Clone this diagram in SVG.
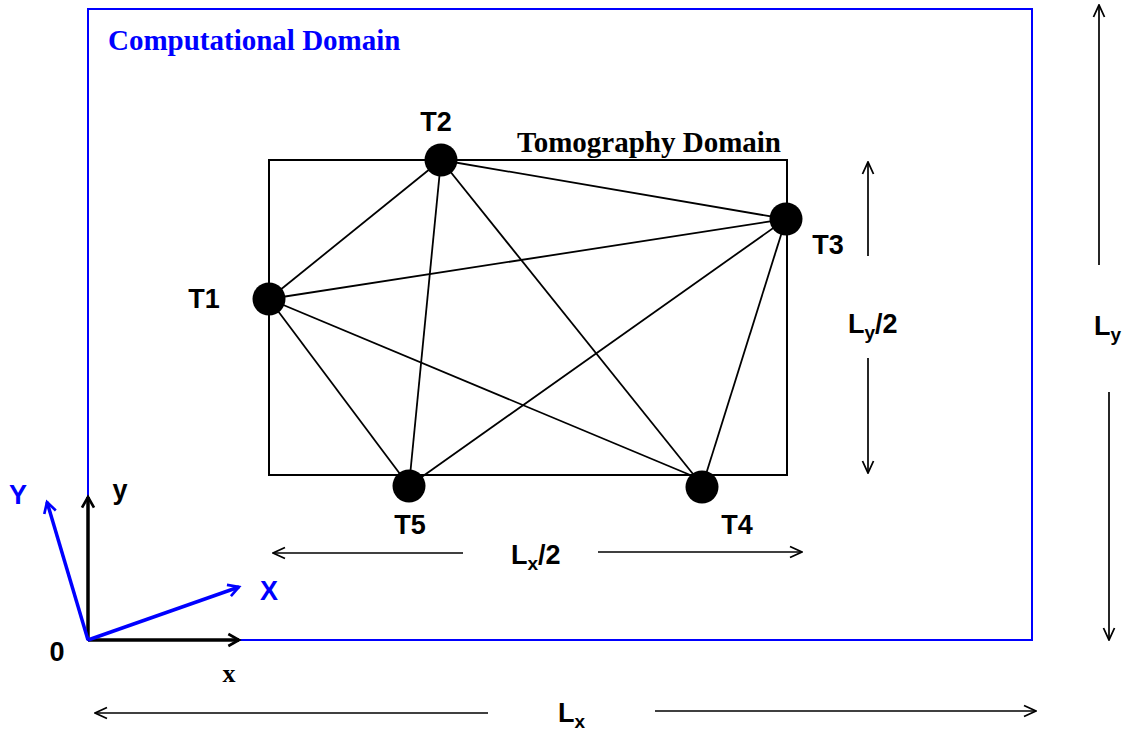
<svg xmlns="http://www.w3.org/2000/svg" width="1127" height="733" viewBox="0 0 1127 733">
<defs>
<marker id="ah" viewBox="0 0 14 14" refX="13" refY="7" markerWidth="14" markerHeight="14" markerUnits="userSpaceOnUse" orient="auto">
<path d="M1,1.5 L13,7 L1,12.5" fill="none" stroke="#000" stroke-width="1.8"/>
</marker>
<marker id="ahk" viewBox="0 0 12 12" refX="10" refY="6" markerWidth="16" markerHeight="16" markerUnits="userSpaceOnUse" orient="auto">
<path d="M2,1.5 L10,6 L2,10.5" fill="none" stroke="#000" stroke-width="2"/>
</marker>
<marker id="ahb" viewBox="0 0 12 12" refX="10" refY="6" markerWidth="16" markerHeight="16" markerUnits="userSpaceOnUse" orient="auto">
<path d="M2,1.5 L10,6 L2,10.5" fill="none" stroke="#0000ff" stroke-width="2"/>
</marker>
</defs>
<style>
.sans{font-family:"Liberation Sans",Arial,sans-serif;font-weight:bold;font-size:27px;fill:#000}
.serif{font-family:"Liberation Serif","Times New Roman",serif;font-weight:bold;font-size:29px}
.edge{stroke:#000;stroke-width:1.8;fill:none}
.dim{stroke:#000;stroke-width:1.7;fill:none;marker-end:url(#ah)}
.node{fill:#000}
.sub{font-size:19px}
</style>
<rect width="1127" height="733" fill="#fff"/>
<g id="computational-domain">
<rect x="88" y="9" width="944" height="631" fill="none" stroke="#0000ff" stroke-width="2"/>
<text class="serif" x="108" y="50" fill="#0000ff">Computational Domain</text>
</g>
<g id="tomography-domain">
<rect x="269" y="160" width="518" height="315" fill="none" stroke="#000" stroke-width="2"/>
<text class="serif" x="517" y="152" fill="#000">Tomography Domain</text>
</g>
<g id="connectors">
<line class="edge" x1="269" y1="299" x2="441" y2="160"/>
<line class="edge" x1="269" y1="299" x2="786" y2="219"/>
<line class="edge" x1="269" y1="299" x2="409" y2="486"/>
<line class="edge" x1="269" y1="299" x2="695" y2="477"/>
<line class="edge" x1="441" y1="160" x2="786" y2="219"/>
<line class="edge" x1="441" y1="160" x2="409" y2="486"/>
<line class="edge" x1="441" y1="160" x2="697" y2="479"/>
<line class="edge" x1="786" y1="219" x2="409" y2="486"/>
<line class="edge" x1="786" y1="219" x2="702" y2="487"/>
</g>
<g id="T1"><circle class="node" cx="269" cy="299" r="16.5"/><text class="sans" x="204" y="308" text-anchor="middle">T1</text></g>
<g id="T2"><circle class="node" cx="441" cy="160" r="16.5"/><text class="sans" x="436" y="131" text-anchor="middle">T2</text></g>
<g id="T3"><circle class="node" cx="786" cy="219" r="16.5"/><text class="sans" x="828" y="254" text-anchor="middle">T3</text></g>
<g id="T4"><circle class="node" cx="702" cy="487" r="16.5"/><text class="sans" x="737" y="534" text-anchor="middle">T4</text></g>
<g id="T5"><circle class="node" cx="409" cy="486" r="16.5"/><text class="sans" x="410" y="534" text-anchor="middle">T5</text></g>
<g id="dimensions">
<line class="dim" x1="868" y1="256" x2="868" y2="162"/>
<line class="dim" x1="868" y1="358" x2="868" y2="473"/>
<text class="sans" x="848" y="333">L<tspan class="sub" dy="6">y</tspan><tspan dy="-6">/2</tspan></text>
<line class="dim" x1="1099" y1="265" x2="1099" y2="5"/>
<line class="dim" x1="1109" y1="392" x2="1109" y2="640"/>
<text class="sans" x="1094" y="335">L<tspan class="sub" dy="6">y</tspan></text>
<line class="dim" x1="463" y1="553" x2="273" y2="553"/>
<line class="dim" x1="598" y1="552" x2="802" y2="552"/>
<text class="sans" x="511" y="564">L<tspan class="sub" dy="6">x</tspan><tspan dy="-6">/2</tspan></text>
<line class="dim" x1="488" y1="713" x2="95" y2="713"/>
<line class="dim" x1="655" y1="711" x2="1036" y2="711"/>
<text class="sans" x="558" y="722">L<tspan class="sub" dy="6">x</tspan></text>
</g>
<g id="axes">
<line x1="88" y1="640" x2="88" y2="497" stroke="#000" stroke-width="3.5" marker-end="url(#ahk)"/>
<line x1="88" y1="640" x2="239" y2="640" stroke="#000" stroke-width="3.5" marker-end="url(#ahk)"/>
<line x1="88" y1="640" x2="47" y2="502" stroke="#0000ff" stroke-width="3.5" marker-end="url(#ahb)"/>
<line x1="88" y1="640" x2="239" y2="587" stroke="#0000ff" stroke-width="3.5" marker-end="url(#ahb)"/>
<text class="sans" x="18" y="504" text-anchor="middle" style="fill:#0000ff">Y</text>
<text class="sans" x="120" y="499" text-anchor="middle">y</text>
<text class="sans" x="269" y="600" text-anchor="middle" style="fill:#0000ff">X</text>
<text class="sans" x="57" y="661" text-anchor="middle">0</text>
<text class="serif" x="229" y="682" text-anchor="middle" style="font-size:26px">x</text>
</g>
</svg>
